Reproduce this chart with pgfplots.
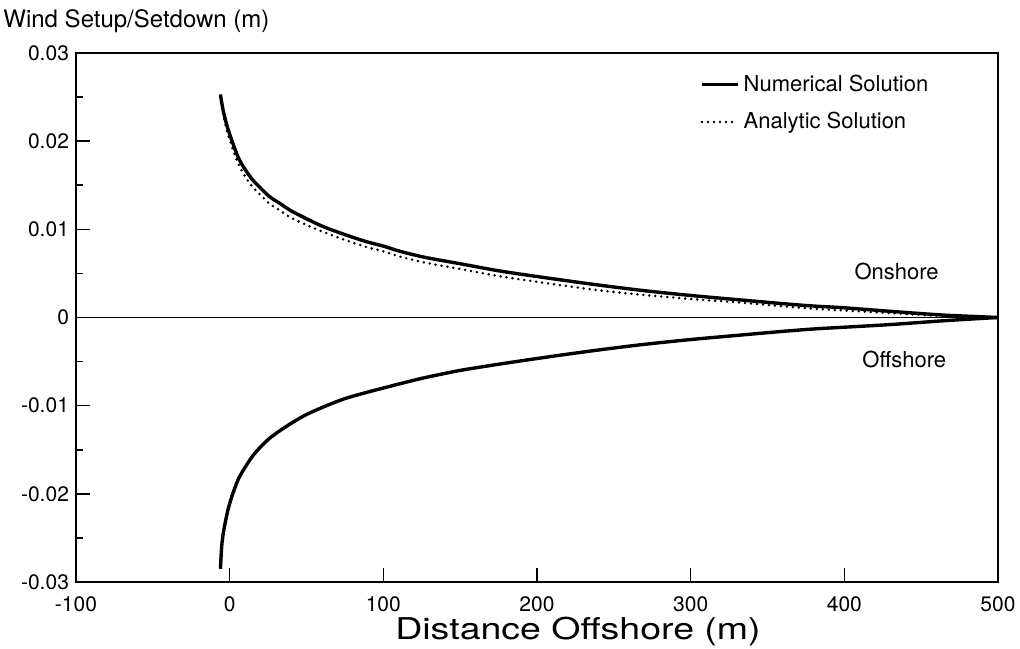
\documentclass[border=0pt]{standalone}
\usepackage{graphicx}
\usepackage{pgfplots}
\pgfplotsset{compat=1.18}
\usepackage{fontspec}
\setmainfont{TeX Gyre Heros}
\begin{document}
\begin{tikzpicture}
\begin{axis}[name=ax, scale only axis, width=461pt, height=264.5pt,
  xmin=-100, xmax=500, ymin=-0.03, ymax=0.03,
  scaled x ticks=false, scaled y ticks=false,
  xtick={-100,0,100,200,300,400,500},
  xticklabels={-100,0,100,200,300,400,500},
  ytick={-0.03,-0.02,-0.01,0,0.01,0.02,0.03},
  yticklabels={-0.03,-0.02,-0.01,0,0.01,0.02,0.03},
  minor ytick={-0.025,-0.015,-0.005,0.005,0.015,0.025},
  tick pos=left, tick align=inside,
  major tick length=7pt, minor tick length=3.5pt,
  tick style={black, line width=0.8pt},
  axis line style={line width=1pt},
  ticklabel style={font=\fontsize{10.5}{12}\selectfont},
  xticklabel style={yshift=-4pt},
  xlabel={\scalebox{1.25}[1]{Distance Offshore (m)}},
  xlabel style={at={(rel axis cs:0.5445,0)}, anchor=north, yshift=-17.5pt, inner sep=0pt, font=\fontsize{15}{18}\selectfont},
  legend style={draw=none, fill=none, at={(rel axis cs:0.6767,0.967)}, anchor=north west,
    font=\fontsize{11}{13}\selectfont, row sep=5pt, inner sep=0pt, nodes={inner sep=2pt},
    /tikz/every even column/.append style={column sep=4pt}},
  legend cell align=left,
  legend image code/.code={\draw[#1] (0pt,0pt) -- (18pt,0pt);},
]
% upper numerical
\addplot[black, line width=1.7pt, smooth, tension=0.5] coordinates {
(-6,0.0253) (-5,0.0242) (-4,0.0233) (-2,0.0219) (0,0.0208) (3,0.0193) (6,0.0180)
(10,0.0168) (15,0.0156) (20,0.0147) (26,0.0137) (33,0.0129) (40,0.0121) (50,0.0112)
(61,0.0103) (75,0.0094) (89,0.0086) (100,0.0081) (111,0.0075) (125,0.0069) (137,0.0065)
(150,0.0061) (175,0.0053) (202,0.0046) (235,0.0038) (267,0.0031) (300,0.0025)
(332,0.0020) (358,0.0016) (380,0.0013) (400,0.0011) (430,0.0007) (462,0.0003)
(480,0.00015) (500,0)};
\addlegendentry{Numerical Solution}
% analytic
\addplot[black, line width=1.4pt, line cap=round, dash pattern=on 0pt off 3pt, smooth, tension=0.5] coordinates {
(-5.5,0.0245) (-5,0.0239) (-4,0.0229) (-2,0.0213) (0,0.0202) (3,0.0186) (6,0.0173)
(10,0.0160) (15,0.0148) (20,0.0139) (26,0.0129) (33,0.0121) (40,0.0113) (50,0.0105)
(61,0.0097) (75,0.0088) (89,0.0080) (100,0.0075) (111,0.0069) (125,0.0063) (137,0.0059)
(150,0.0055) (175,0.0047) (202,0.0040) (235,0.0032) (267,0.0026) (300,0.0021)
(332,0.0017) (358,0.0013) (380,0.0010) (400,0.0008) (430,0.0005) (462,0.0002) (500,0)};
\addlegendentry{Analytic Solution}
% lower numerical
\addplot[black, line width=1.7pt, smooth, tension=0.5, forget plot] coordinates {
(-6,-0.0285) (-5.5,-0.0268) (-5,-0.0256) (-4,-0.0243) (-2,-0.0225) (0,-0.0211)
(3,-0.0195) (6,-0.0182) (10,-0.0170) (15,-0.0157) (20,-0.0147) (26,-0.0137)
(33,-0.0128) (41,-0.0119) (50,-0.0110) (63,-0.0100) (75,-0.0092) (89,-0.0085)
(100,-0.0080) (111,-0.0075) (125,-0.0069) (133,-0.0066) (150,-0.0060) (175,-0.0053)
(202,-0.0046) (235,-0.0038) (267,-0.0031) (300,-0.0025) (332,-0.0020) (358,-0.0016)
(380,-0.0013) (400,-0.0011) (430,-0.0008) (462,-0.0004) (480,-0.0002) (500,0)};
% zero line
\addplot[black, line width=0.8pt, forget plot] coordinates {(-100,0) (500,0)};
\node[font=\fontsize{11}{13}\selectfont] at (axis cs:434,0.0052) {Onshore};
\node[font=\fontsize{11}{13}\selectfont] at (axis cs:439,-0.0048) {Offshore};
\end{axis}
\node[anchor=base west, inner sep=0pt, font=\fontsize{12}{14}\selectfont] at ([xshift=-36.5pt,yshift=13pt]ax.north west) {Wind Setup/Setdown (m)};
\pgfresetboundingbox
\path ([xshift=-38pt,yshift=-33pt]ax.south west) rectangle ([xshift=11pt,yshift=26.5pt]ax.north east);
\end{tikzpicture}
\end{document}
